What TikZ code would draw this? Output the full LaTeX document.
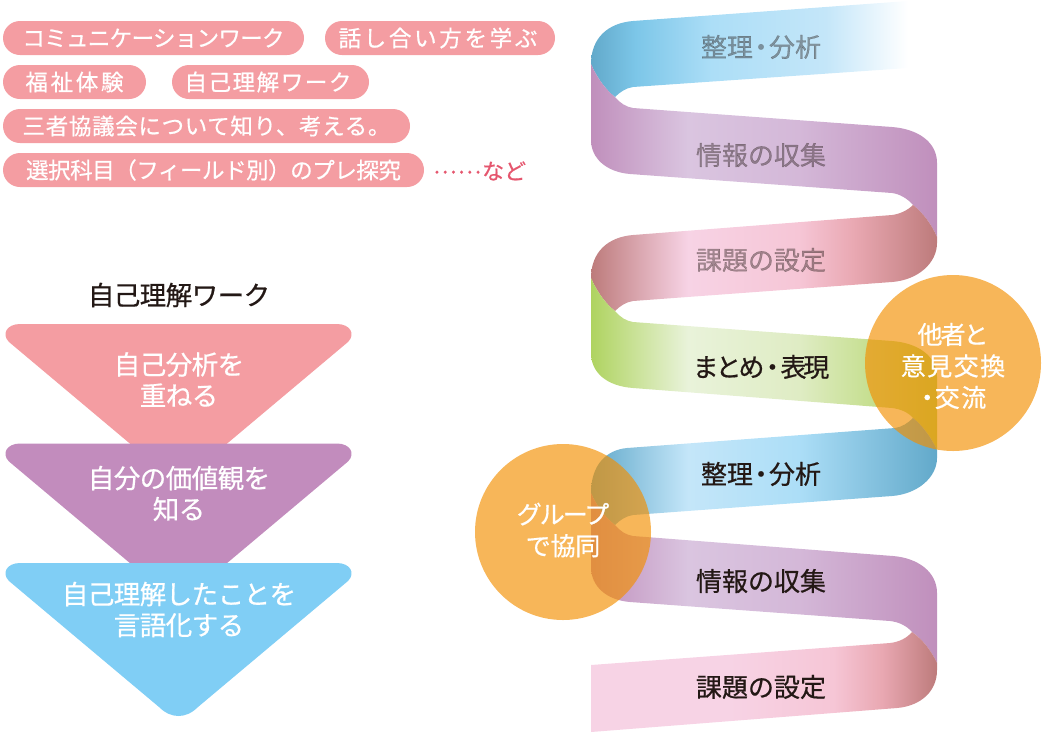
\documentclass[tikz,border=0pt]{standalone}
\usepackage{fontspec}
\setmainfont{Noto Sans CJK JP}
\definecolor{tagpink}{HTML}{F49DA2}
\definecolor{tagred}{HTML}{E5566E}
\definecolor{stepviolet}{HTML}{C28CBD}
\definecolor{stepblue}{HTML}{80CEF5}
\definecolor{inkblack}{HTML}{231815}
\definecolor{talkorange}{RGB}{243,143,0}
\definecolor{blueA}{HTML}{62A9CA}
\definecolor{blueB}{HTML}{7CC6E8}
\definecolor{blueC}{HTML}{ACDEF7}
\definecolor{blueD}{HTML}{C4E6F9}
\definecolor{violetA}{HTML}{C08FBC}
\definecolor{violetB}{HTML}{DAC5E0}
\definecolor{violetC}{HTML}{D4B8D8}
\definecolor{roseA}{HTML}{BD7B7B}
\definecolor{roseB}{HTML}{F7D3E5}
\definecolor{roseC}{HTML}{F6C6D6}
\definecolor{roseD}{HTML}{E9A8B2}
\definecolor{greenA}{HTML}{AFD360}
\definecolor{greenB}{HTML}{E9F3DA}
\definecolor{greenC}{HTML}{DFECC4}
\pgfdeclarehorizontalshading{bandtop}{100bp}{color(0bp)=(blueA); color(25bp)=(blueA); color(32bp)=(blueB); color(44bp)=(blueC); color(62bp)=(blueD); color(75bp)=(white); color(100bp)=(white)}
\pgfdeclarehorizontalshading{bandviolet}{100bp}{color(0bp)=(violetA); color(25bp)=(violetA); color(39bp)=(violetB); color(55bp)=(violetC); color(75bp)=(violetA); color(100bp)=(violetA)}
\pgfdeclarehorizontalshading{bandrose}{100bp}{color(0bp)=(roseA); color(25bp)=(roseA); color(39bp)=(roseB); color(55bp)=(roseC); color(63bp)=(roseD); color(75bp)=(roseA); color(100bp)=(roseA)}
\pgfdeclarehorizontalshading{bandgreen}{100bp}{color(0bp)=(greenA); color(25bp)=(greenA); color(39bp)=(greenB); color(55bp)=(greenC); color(75bp)=(greenA); color(100bp)=(greenA)}
\pgfdeclarehorizontalshading{bandblue}{100bp}{color(0bp)=(blueA); color(25bp)=(blueA); color(39bp)=(blueD); color(55bp)=(blueC); color(75bp)=(blueA); color(100bp)=(blueA)}
\pgfdeclarehorizontalshading{bandend}{100bp}{color(0bp)=(roseB); color(25bp)=(roseB); color(45bp)=(roseB); color(60bp)=(roseC); color(67bp)=(roseD); color(75bp)=(roseA); color(100bp)=(roseA)}
\newfontfamily\jpheavy[FakeBold=0.6]{Noto Sans CJK JP}
\newcommand{\track}[1]{\addfontfeature{LetterSpace=#1}}
\newcommand{\jdot}{\kern-5pt・\kern-5pt}
\tikzset{
  tag/.style={fill=tagpink,text=white,rounded corners=17pt,minimum height=34pt,inner sep=0pt,font=\jpheavy\fontsize{22.5}{22.5}\selectfont},
  funneltext/.style={text=white,align=center,inner sep=0pt,font=\jpheavy\fontsize{26.5}{31}\selectfont\track{-2}},
  bandtext/.style={text=inkblack,inner sep=0pt,font=\jpheavy\fontsize{26}{26}\selectfont},
  fadedtext/.style={bandtext,text opacity=.4},
  talk/.style={fill=talkorange,fill opacity=.65},
  talktext/.style={text=white,align=center,inner sep=0pt,font=\jpheavy\fontsize{25}{31.5}\selectfont\track{6}}
}
\begin{document}
\begin{tikzpicture}[x=1pt,y=-1pt]
\useasboundingbox (0,0) rectangle (1043,732);

\node[tag,minimum width=301pt] (comm) at (153.5,38) {\track{-3}コミュニケーションワーク};
\node[tag,minimum width=230pt] (talkway) at (440,38) {\hspace{-4pt}\track{12}話し合い方を学ぶ};
\node[tag,minimum width=143pt] (welfare) at (74.5,82) {\track{12}福祉体験};
\node[tag,minimum width=197pt] (selfwork) at (270.5,82) {\hspace{-5pt}\track{7}自己理解ワーク};
\node[tag,minimum width=407pt] (council) at (206.5,126) {\track{3}三者協議会について知り、考える。};
\node[tag,minimum width=421pt] (subject) at (213.5,170) {\track{-2}選択科目（フィールド別）のプレ探究};
\node[anchor=west,text=tagred,inner sep=0pt,font=\jpheavy\fontsize{22}{22}\selectfont] (etc) at (433,171) {\raisebox{6pt}{\track{6}……}\kern1pt など};

\node[text=inkblack,inner sep=0pt,font=\jpheavy\fontsize{26.5}{26.5}\selectfont\track{-2}] (title) at (179,295) {自己理解ワーク};
\foreach \y/\c in {324/tagpink,443.5/stepviolet,563/stepblue}
  \fill[\c] (20,\y) -- (337,\y) .. controls (350,\y) and (356,\y+10) .. (348,\y+18) -- (198,\y+144) .. controls (186,\y+156) and (171,\y+156) .. (159,\y+144) -- (9,\y+18) .. controls (1,\y+10) and (7,\y) .. (20,\y) -- cycle;
\node[funneltext] (stepa) at (179,379.5) {自己分析を\\重ねる};
\node[funneltext] (stepb) at (179,493.5) {自分の価値観を\\知る};
\node[funneltext] (stepc) at (179,609.5) {自己理解したことを\\言語化する};

\shade[shading=bandtop] (908,1) -- (633,21) .. controls (608,23) and (591,38) .. (591,64) .. controls (597,78) and (606,90) .. (615,97) .. controls (620,92) and (626,88) .. (633,87) -- (908,68) -- cycle;
\shade[shading=bandviolet] (591,64) .. controls (597,78) and (606,90) .. (615,97) .. controls (620,103) and (626,107) .. (633,108) -- (892,127) .. controls (918,129) and (937,142) .. (937,163) -- (937,237) .. controls (931,223) and (922,212) .. (913,205) .. controls (908,199) and (900,194) .. (892,193) -- (630,174) .. controls (606,172) and (591,158) .. (591,140) -- cycle;
\shade[shading=bandrose] (937,237) .. controls (931,223) and (922,212) .. (913,205) .. controls (908,210) and (900,214) .. (892,215) -- (633,235) .. controls (608,237) and (591,252) .. (591,278) .. controls (597,292) and (606,304) .. (615,311) .. controls (620,306) and (626,302) .. (633,301) -- (892,282) .. controls (918,280) and (937,263) .. (937,243) -- cycle;
\shade[shading=bandgreen] (591,278) .. controls (597,292) and (606,304) .. (615,311) .. controls (620,317) and (626,321) .. (633,322) -- (892,341) .. controls (918,343) and (937,356) .. (937,377) -- (937,450) .. controls (931,437) and (922,425) .. (913,418) .. controls (908,412) and (900,409) .. (892,408) -- (633,388) .. controls (606,386) and (591,372) .. (591,353) -- cycle;
\shade[shading=bandblue] (937,450) .. controls (931,437) and (922,425) .. (913,418) .. controls (908,423) and (902,427) .. (895,428) -- (627,448) .. controls (606,450) and (591,465) .. (591,493) .. controls (597,507) and (606,518) .. (615,525) .. controls (620,520) and (626,516) .. (633,515) -- (892,496) .. controls (918,494) and (937,477) .. (937,458) -- cycle;
\shade[shading=bandviolet] (591,493) .. controls (597,507) and (606,518) .. (615,525) .. controls (620,531) and (626,535) .. (633,536) -- (893,556) .. controls (918,558) and (937,572) .. (937,593) -- (937,663) .. controls (931,650) and (922,639) .. (912,632) .. controls (907,626) and (899,622) .. (890,621) -- (630,602) .. controls (606,600) and (591,586) .. (591,567) -- cycle;
\shade[shading=bandend] (937,663) .. controls (931,650) and (922,639) .. (912,632) .. controls (907,638) and (899,642) .. (890,643) -- (591,665) -- (591,732) -- (897,708) .. controls (920,706) and (937,692) .. (937,670) -- cycle;

\node[fadedtext] (sorta) at (761,47) {整理\jdot 分析};
\node[fadedtext] (infoa) at (761,155) {情報の収集};
\node[fadedtext] (issuea) at (761,260) {課題の設定};
\node[bandtext] (summary) at (761,367) {\track{-12}まとめ\jdot 表現};
\node[bandtext] (sortb) at (761,474) {整理\jdot 分析};
\node[bandtext] (infob) at (761,581) {情報の収集};
\node[bandtext] (issueb) at (761,687) {課題の設定};

\fill[talk] (953,363) circle [radius=88];
\fill[talk] (563,532) circle [radius=88];
\node[talktext] (others) at (953,366) {{\track{-8}他者と}\\意見交換\\\jdot 交流};
\node[talktext] (group) at (563,530) {{\track{-8}グループ}\\{\track{-1}で協同}};
\end{tikzpicture}
\end{document}
